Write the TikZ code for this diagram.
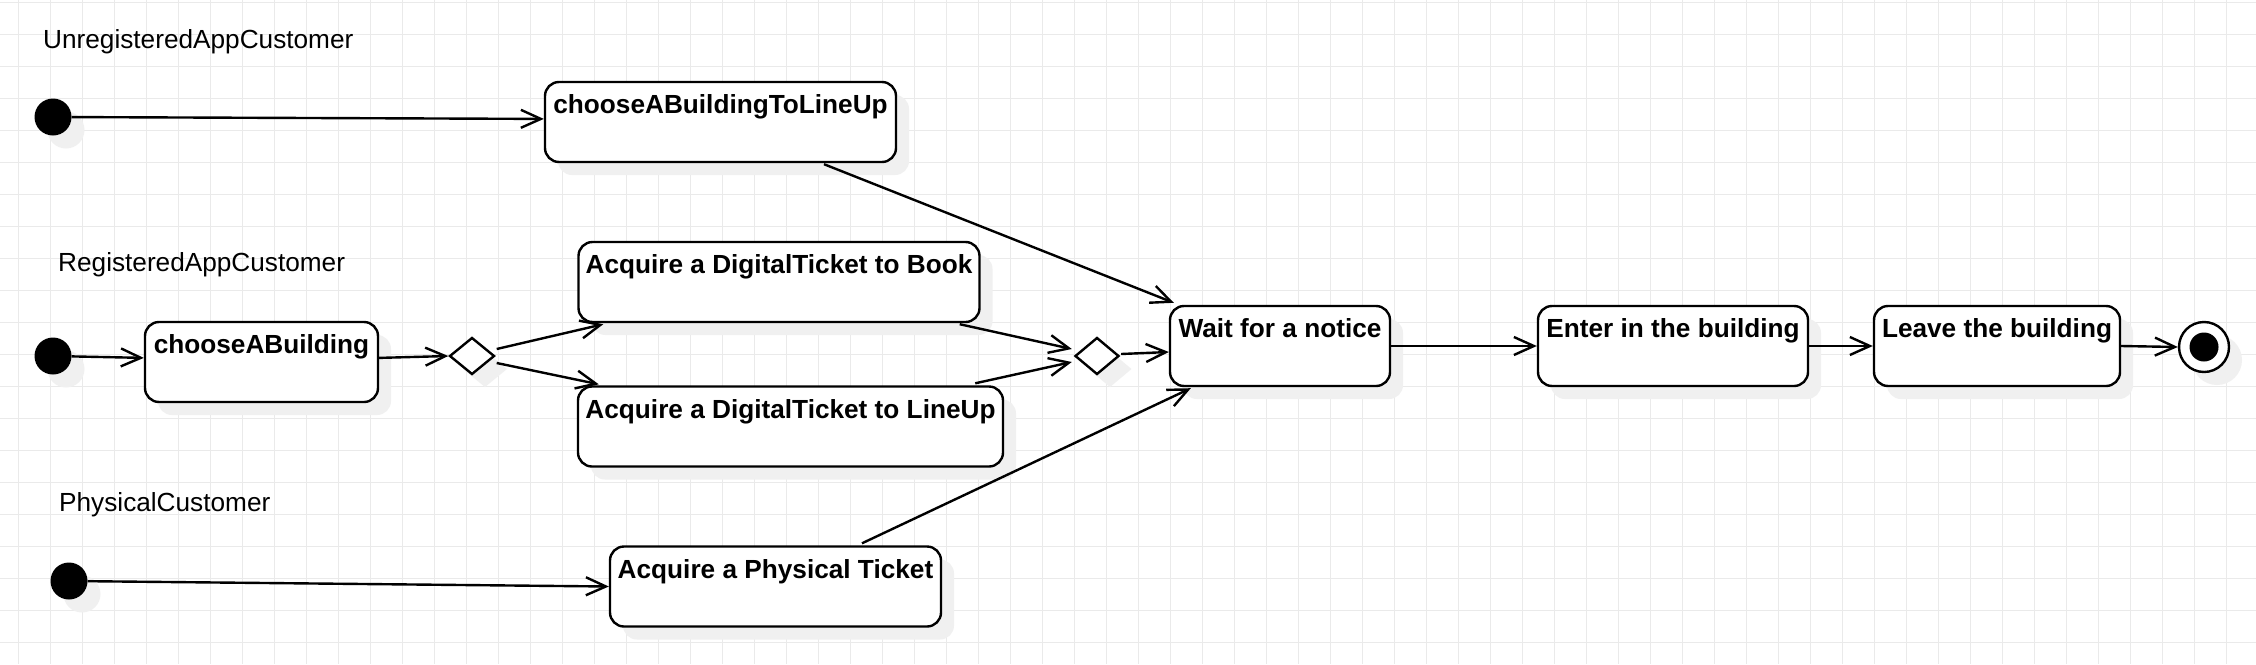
\documentclass[tikz,border=0pt]{standalone}
\usepackage{fontspec}
\setmainfont{Liberation Sans}
\usetikzlibrary{arrows.meta,shapes.geometric,shadows,calc}
\definecolor{gridc}{RGB}{234,234,234}
\definecolor{shadowc}{RGB}{240,240,240}
\begin{document}
\begin{tikzpicture}[x=1pt,y=-1pt,
  shad/.style={drop shadow={shadow xshift=13pt,shadow yshift=-13pt,fill=shadowc,draw=none,opacity=1}},
  state/.style={draw=black,line width=2.4pt,fill=white,rounded corners=14pt,inner sep=0pt,minimum height=80pt,shad},
  stext/.style={anchor=base,inner sep=0pt,font=\fontsize{26.2}{30}\selectfont\bfseries},
  lane/.style={anchor=base west,inner sep=0pt,font=\fontsize{26.2}{30}\selectfont},
  initst/.style={circle,fill=black,draw=none,inner sep=0pt,minimum size=37pt,shad},
  choice/.style={diamond,draw=black,line width=2.4pt,fill=white,inner sep=0pt,shad},
  flow/.style={line width=2.4pt,line join=round,-{Straight Barb[length=20pt,width=18pt]}}
]
\useasboundingbox (0,0) rectangle (2256,664);
\fill[white] (0,0) rectangle (2256,664);
\foreach \i in {0,...,69} \draw[gridc,line width=1pt] ({18.3+32*\i},0) -- ({18.3+32*\i},664);
\foreach \j in {0,...,20} \draw[gridc,line width=1pt] (0,{2.3+32*\j}) -- (2256,{2.3+32*\j});

% lane labels
\node[lane] (l1) at (43,48) {UnregisteredAppCustomer};
\node[lane] (l2) at (58,271.5) {RegisteredAppCustomer};
\node[lane] (l3) at (59,511.5) {PhysicalCustomer};

% initial states
\node[initst] (i1) at (53,117) {};
\node[initst] (i2) at (53,356) {};
\node[initst] (i3) at (69,581) {};

% states
\node[state,minimum width=351pt] (b1) at (720.5,122) {};
\node[state,minimum width=233pt] (b2) at (261.5,362) {};
\node[state,minimum width=401pt] (b3) at (779,282) {};
\node[state,minimum width=425pt] (b4) at (790.5,426.5) {};
\node[state,minimum width=331pt] (b5) at (775.5,586.5) {};
\node[state,minimum width=220pt] (b6) at (1280,346) {};
\node[state,minimum width=270pt] (b7) at (1673,346) {};
\node[state,minimum width=246pt] (b8) at (1997,346) {};

\node[stext] (t1) at ($(b1.north)+(0,33)$) {chooseABuildingToLineUp};
\node[stext] (t2) at ($(b2.north)+(0,33)$) {chooseABuilding};
\node[stext] (t3) at ($(b3.north)+(0,33)$) {Acquire a DigitalTicket to Book};
\node[stext] (t4) at ($(b4.north)+(0,33)$) {Acquire a DigitalTicket to LineUp};
\node[stext] (t5) at ($(b5.north)+(0,33)$) {Acquire a Physical Ticket};
\node[stext] (t6) at ($(b6.north)+(0,33)$) {Wait for a notice};
\node[stext] (t7) at ($(b7.north)+(0,33)$) {Enter in the building};
\node[stext] (t8) at ($(b8.north)+(0,33)$) {Leave the building};

% decisions
\node[choice,minimum width=45pt,minimum height=37pt] (d1) at (472,356) {};
\node[choice,minimum width=44pt,minimum height=37pt] (d2) at (1097,356) {};

% final state
\node[circle,draw=black,line width=2.4pt,fill=white,inner sep=0pt,minimum size=50pt,shad] (f) at (2204,347) {};
\node[circle,fill=black,inner sep=0pt,minimum size=29pt] (fi) at (f.center) {};

% connectors
\draw[flow] (i1) -- (b1.179);
\draw[flow] (i2) -- (b2.178);
\draw[flow] (b2.2) -- (d1.west);
\draw[flow] ($(d1.east)+(1,-7)$) -- ($(b3.south west)+(26,1)$);
\draw[flow] ($(d1.east)+(1,7)$) -- ($(b4.north west)+(22,-1)$);
\draw[flow] ($(b3.south east)+(-21,1)$) -- ($(d2.west)+(-2,-7)$);
\draw[flow] ($(b4.north east)+(-29,-2)$) -- ($(d2.west)+(-2,6)$);
\draw[flow] ($(d2.east)+(1,-2)$) -- ($(b6.west)+(0,6)$);
\draw[flow] ($(b1.south)+(103.5,1)$) -- ($(b6.north west)+(5,-2)$);
\draw[flow] ($(b5.north)+(86.5,-2)$) -- ($(b6.south west)+(22,1)$);
\draw[flow] (i3) -- (b5.west);
\draw[flow] (b6.east) -- (b7.west);
\draw[flow] (b7.east) -- (b8.west);
\draw[flow] (b8.east) -- (f.west);
\end{tikzpicture}
\end{document}
